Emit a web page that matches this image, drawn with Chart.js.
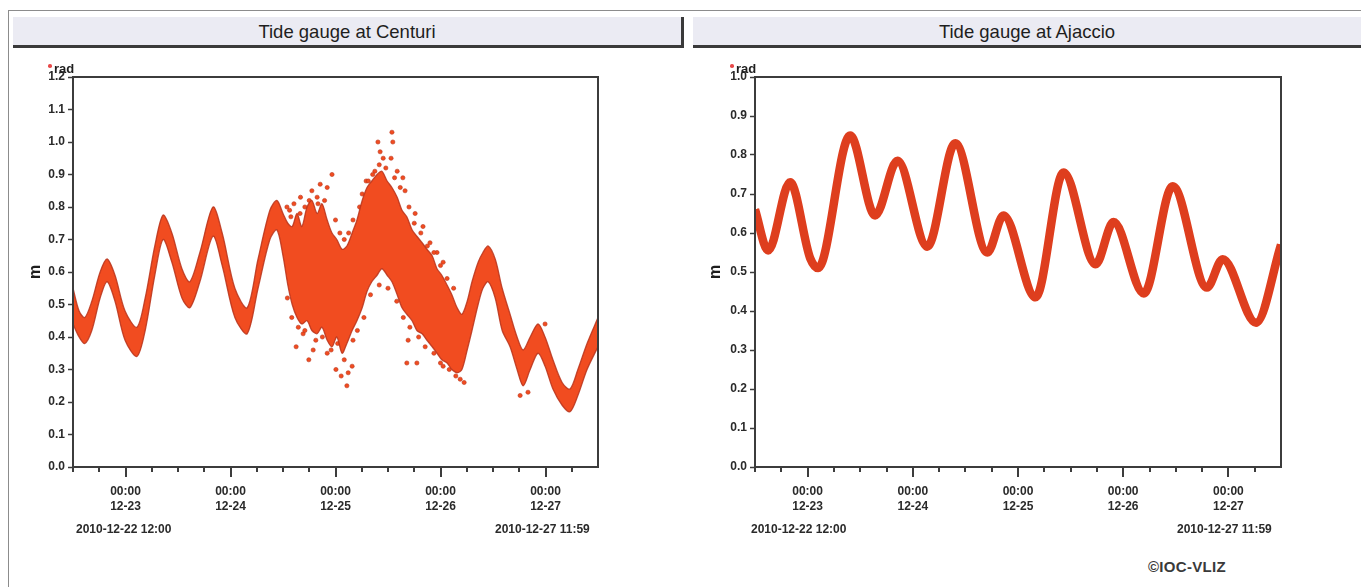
<!DOCTYPE html>
<html>
<head>
<meta charset="utf-8">
<script src="https://cdn.jsdelivr.net/npm/chart.js@4.4.1/dist/chart.umd.min.js"></script>
<style>
html,body{margin:0;padding:0;background:#fff;width:1361px;height:587px;overflow:hidden;font-family:"Liberation Sans",Arial,sans-serif;}
#frame{position:absolute;left:8px;top:10px;width:1400px;height:620px;border-top:1px solid #8c8c8c;border-left:1px solid #8c8c8c;}
.bar{position:absolute;top:17px;height:28px;background:#ebebf3;border-bottom:3px solid #3a3a3a;text-align:center;font-size:18.5px;line-height:29px;color:#1e1e1e;}
#barL{left:13px;width:668px;border-right:3px solid #3a3a3a;}
#barR{left:693px;width:668px;}
.wrap{position:absolute;top:50px;height:480px;}
#wrapL{left:0;width:680px;}
#wrapR{left:680px;width:681px;}
.leg{position:absolute;top:61px;font-weight:bold;font-size:13px;color:#1e1e1e;}
.leg i{position:absolute;left:-6px;top:3px;width:3.5px;height:3.5px;border-radius:50%;background:#e84a4a;}
.date{position:absolute;top:522px;font-weight:bold;font-size:12px;color:#2a2a2a;white-space:nowrap;}
#ioc{position:absolute;left:1148px;top:558px;font-weight:bold;font-size:15px;letter-spacing:0.3px;color:#3a3a3a;}
</style>
</head>
<body>
<div id="frame"></div>
<div class="bar" id="barL">Tide gauge at Centuri</div>
<div class="bar" id="barR">Tide gauge at Ajaccio</div>
<div class="wrap" id="wrapL"><canvas id="cL" width="680" height="480"></canvas></div>
<div class="wrap" id="wrapR"><canvas id="cR" width="681" height="480"></canvas></div>
<div class="leg" style="left:54px"><i></i>rad</div>
<div class="leg" style="left:736px"><i></i>rad</div>
<div class="date" style="left:76px">2010-12-22 12:00</div>
<div class="date" style="left:495px">2010-12-27 11:59</div>
<div class="date" style="left:751px">2010-12-22 12:00</div>
<div class="date" style="left:1177px">2010-12-27 11:59</div>
<div id="ioc">&copy;IOC-VLIZ</div>
<script>
// ---- axis / tick definitions (hours since 2010-12-22 12:00) ----
const xMinHour = 0;
const xMaxHour = 120;
const majorTickHours = [12, 36, 60, 84, 108];
const majorTickTime = '00:00';
const majorTickDates = ['12-23', '12-24', '12-25', '12-26', '12-27'];
const seriesName = 'rad';

// ---- Centuri (left): envelope of the dense scatter band ----
const centuriHours = [0, 1.4, 2.7, 4.3, 6.2, 7.8, 9.6, 11.9, 14.6, 16.5, 18.7, 20.6, 22.6, 24.9, 26.7, 29.0, 32.0, 34.1, 37.0, 39.8, 42.3, 45.0, 46.6,
  48.0, 49.1, 50.1, 51.2, 52.3, 53.5, 54.6, 55.8, 56.9, 58.1, 59.2, 60.3, 61.5, 62.6, 63.8, 64.9, 66.1, 67.2, 68.3, 69.5, 70.6, 71.8, 72.9, 74.1, 75.2, 76.3, 77.5, 78.6, 79.8, 80.9, 82.1, 83.2, 84.3, 85.5, 86.6, 87.8, 88.9, 90.1, 91.2, 92.6, 93.7, 94.9,
  96.5, 98.1, 99.9, 101.5, 102.9, 104.5, 106.3, 107.9, 109.7, 111.8, 113.6, 115.4, 117.5, 120];
const centuriUpper = [0.55, 0.48, 0.46, 0.51, 0.60, 0.64, 0.59, 0.48, 0.43, 0.52, 0.68, 0.775, 0.72, 0.61, 0.57, 0.66, 0.80, 0.72, 0.55, 0.49, 0.64, 0.79, 0.82,
  0.78, 0.75, 0.74, 0.78, 0.74, 0.80, 0.82, 0.78, 0.81, 0.76, 0.72, 0.70, 0.67, 0.68, 0.72, 0.76, 0.82, 0.86, 0.88, 0.90, 0.91, 0.88, 0.86, 0.83, 0.79, 0.77, 0.73, 0.71, 0.69, 0.67, 0.65, 0.61, 0.59, 0.56, 0.53, 0.49, 0.47, 0.51, 0.57, 0.63, 0.66, 0.68,
  0.64, 0.55, 0.47, 0.40, 0.36, 0.40, 0.44, 0.40, 0.33, 0.26, 0.24, 0.30, 0.38, 0.46];
const centuriLower = [0.44, 0.40, 0.38, 0.42, 0.52, 0.57, 0.51, 0.39, 0.34, 0.42, 0.59, 0.70, 0.63, 0.52, 0.49, 0.57, 0.71, 0.62, 0.46, 0.41, 0.55, 0.70, 0.73,
  0.65, 0.56, 0.50, 0.46, 0.44, 0.45, 0.42, 0.41, 0.43, 0.39, 0.37, 0.40, 0.35, 0.38, 0.42, 0.45, 0.49, 0.54, 0.57, 0.59, 0.61, 0.59, 0.57, 0.53, 0.49, 0.47, 0.45, 0.42, 0.41, 0.39, 0.37, 0.35, 0.33, 0.32, 0.30, 0.29, 0.30, 0.36, 0.42, 0.50, 0.55, 0.57,
  0.52, 0.42, 0.37, 0.30, 0.25, 0.30, 0.35, 0.31, 0.24, 0.19, 0.17, 0.22, 0.30, 0.37];
// ---- Centuri: scattered points around / outside the dense band ----
const centuriDotHours = [59.2, 56.5, 58.1, 54.6, 55.8, 51.9, 72.9, 73.1, 69.7, 70.2, 70.9, 72.7, 74.1, 75.4, 75.9, 69.0, 62.6, 62.9, 63.8, 58.1, 54.9, 76.3, 78.6, 84.6, 88.5, 76.6, 52.6, 83.2, 84.6, 81.6, 102.2, 104.0, 107.9, 51.0, 53.9, 60.1, 61.3, 66.1, 67.0, 48.9, 49.8, 80.0, 78.2, 89.4,
  49.5, 50.5, 52.0, 53.0, 54.0, 56.0, 57.5, 60.0, 61.0, 62.0, 63.0, 64.0, 65.5,
  49.0, 50.0, 51.5, 53.0, 55.5, 57.0, 59.0, 60.5, 62.0, 64.0, 65.0, 66.5,
  67.5, 68.5, 70.0, 71.5, 73.5, 74.8, 76.8, 78.0, 79.5,
  68.0, 70.0, 72.0, 74.0, 75.5, 77.0, 79.0, 80.5, 82.5, 84.0, 86.0, 87.5,
  81.0, 82.5, 84.0, 85.5, 87.0];
const centuriDotLevels = [0.90, 0.87, 0.86, 0.85, 0.83, 0.78, 1.03, 1.00, 1.00, 0.97, 0.95, 0.95, 0.91, 0.89, 0.85, 0.91, 0.25, 0.29, 0.31, 0.35, 0.36, 0.32, 0.32, 0.31, 0.27, 0.39, 0.41, 0.66, 0.63, 0.69, 0.22, 0.23, 0.44, 0.37, 0.33, 0.30, 0.28, 0.84, 0.88, 0.80, 0.77, 0.74, 0.78, 0.26,
  0.79, 0.81, 0.83, 0.80, 0.82, 0.81, 0.82, 0.76, 0.72, 0.70, 0.72, 0.76, 0.80,
  0.52, 0.46, 0.43, 0.42, 0.39, 0.40, 0.36, 0.38, 0.33, 0.39, 0.42, 0.46,
  0.88, 0.90, 0.93, 0.92, 0.89, 0.86, 0.80, 0.75, 0.72,
  0.53, 0.56, 0.55, 0.51, 0.46, 0.43, 0.40, 0.37, 0.35, 0.32, 0.30, 0.28,
  0.68, 0.66, 0.62, 0.58, 0.55];

// ---- Ajaccio (right) ----
const ajaccioHours = [0, 3.0, 8.0, 12.6, 14.4, 21.7, 27.4, 32.5, 39.3, 45.7, 53.0, 56.7, 64.0, 70.4, 77.7, 81.8, 88.7, 95.3, 103.1, 106.7, 114.3, 120];
const ajaccioLevels = [0.66, 0.555, 0.73, 0.535, 0.51, 0.85, 0.645, 0.785, 0.565, 0.83, 0.55, 0.645, 0.435, 0.755, 0.52, 0.628, 0.445, 0.72, 0.46, 0.533, 0.37, 0.57];

const pts = (xs, ys) => xs.map((x, i) => ({x: x, y: ys[i]}));
const FONT = '"Liberation Sans", Arial, sans-serif';
const RED = 'rgb(241,76,32)';
const EDGE = 'rgba(185,50,26,0.85)';

const framePlugin = {
  id: 'frameTicks',
  afterDraw(chart) {
    const ctx = chart.ctx, a = chart.chartArea, xs = chart.scales.x;
    ctx.save();
    ctx.strokeStyle = '#3c3c3c';
    ctx.lineWidth = 2;
    ctx.strokeRect(a.left, a.top, a.right - a.left, a.bottom - a.top);
    xs.ticks.forEach(t => {
      if (t.value >= xs.max) return;
      const px = Math.round(xs.getPixelForValue(t.value));
      const major = majorTickHours.indexOf(t.value) >= 0;
      ctx.beginPath();
      ctx.moveTo(px, a.bottom);
      ctx.lineTo(px, a.bottom + (major ? 10 : 5));
      ctx.stroke();
    });
    ctx.restore();
  }
};

function makeChart(id, datasets, yMax, yWidth, padRight) {
  return new Chart(document.getElementById(id), {
    type: 'line',
    data: {datasets: datasets},
    options: {
      responsive: false,
      animation: false,
      layout: {padding: {top: 27, right: padRight, bottom: 0, left: 0}},
      plugins: {legend: {display: false}, tooltip: {enabled: false}},
      scales: {
        x: {
          type: 'linear', min: xMinHour, max: xMaxHour,
          border: {display: false},
          grid: {display: true, drawOnChartArea: false, drawTicks: false},
          ticks: {
            stepSize: 6, autoSkip: false, maxRotation: 0, padding: 17,
            color: '#2a2a2a', font: {family: FONT, size: 12, weight: 'bold', lineHeight: 1.25},
            callback: v => { const i = majorTickHours.indexOf(v); return i < 0 ? '' : [majorTickTime, majorTickDates[i]]; }
          },
          afterFit: s => { s.height = 63; }
        },
        y: {
          min: 0, max: yMax,
          border: {display: false},
          grid: {drawOnChartArea: false, drawTicks: true, tickLength: 5, tickColor: '#3c3c3c', tickWidth: 1.5},
          ticks: {
            stepSize: 0.1, padding: 3, color: '#2a2a2a',
            font: {family: FONT, size: 12, weight: 'bold'},
            callback: v => v.toFixed(1)
          },
          title: {display: true, text: 'm', color: '#1e1e1e', font: {family: FONT, size: 16, weight: 'bold'}, padding: {top: 26, bottom: 0}},
          afterFit: s => { s.width = yWidth; }
        }
      }
    },
    plugins: [framePlugin]
  });
}

makeChart('cL', [
  {label: seriesName, data: pts(centuriHours, centuriUpper), borderColor: EDGE, borderWidth: 1.3, pointRadius: 0, tension: 0.3, fill: false},
  {label: seriesName, data: pts(centuriHours, centuriLower), borderColor: EDGE, borderWidth: 1.3, pointRadius: 0, tension: 0.3, fill: '-1', backgroundColor: RED},
  {type: 'scatter', label: seriesName, data: pts(centuriDotHours, centuriDotLevels), pointRadius: 2.1, backgroundColor: RED, borderColor: EDGE, borderWidth: 0.7, showLine: false}
], 1.2, 73, 82);

makeChart('cR', [
  {label: seriesName, data: pts(ajaccioHours, ajaccioLevels), borderColor: 'rgb(222,62,30)', borderWidth: 8.5, pointRadius: 0, cubicInterpolationMode: 'monotone', fill: false},
  {label: seriesName, data: pts(ajaccioHours, ajaccioLevels), borderColor: RED, borderWidth: 6.5, pointRadius: 0, cubicInterpolationMode: 'monotone', fill: false}
], 1.0, 75, 80);
</script>
</body>
</html>
